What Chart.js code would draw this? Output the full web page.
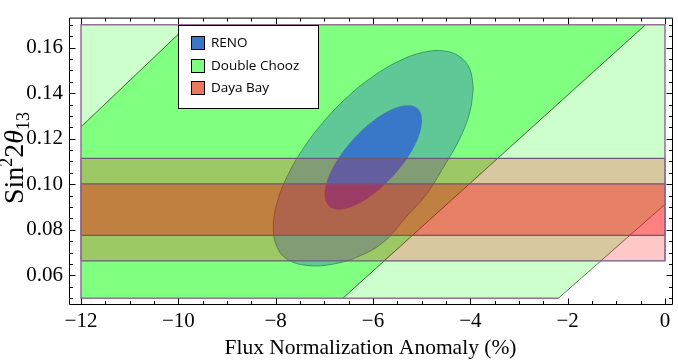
<!DOCTYPE html>
<html><head><meta charset="utf-8">
<script src="https://cdn.jsdelivr.net/npm/chart.js@4"></script>
<style>html,body{margin:0;padding:0;background:#fff;} canvas{display:block;}</style>
</head><body>
<canvas id="c" width="678" height="362"></canvas>
<script>
// ---- axes ----
const xRange = [-12.2466, 0.1438];
const yRange = [0.04748, 0.17269];
const xTicks = [-12, -10, -8, -6, -4, -2, 0];
const xTickLabels = ['−12', '−10', '−8', '−6', '−4', '−2', '0'];
const yTicks = [0.06, 0.08, 0.10, 0.12, 0.14, 0.16];
const yTickLabels = ['0.06', '0.08', '0.10', '0.12', '0.14', '0.16'];
const xMinorStep = 0.5;
const yMinorStep = 0.005;
const xTitle = 'Flux Normalization Anomaly (%)';

// ---- legend ----
const legendLabels = ['RENO', 'Double Chooz', 'Daya Bay'];
const legendColors = ['#3b77c6', '#80ff80', '#e8795e'];

// ---- plotted region box ----
const regionBox = [[-2.19, 0.05], [-12, 0.05], [-12, 0.17], [0, 0.17], [0, 0.0664]];

// ---- Double Chooz (diagonal bands) ----
const dcOuter = [[-12, 0.05], [-2.19, 0.05], [0, 0.0912], [0, 0.17], [-12, 0.17]];
const dcInner = [[-12, 0.05], [-6.62, 0.05], [-0.40, 0.17], [-9.795, 0.17], [-12, 0.1252]];
const dcLine1 = [[-12, 0.1252], [-9.795, 0.17]];
const dcLine2 = [[-6.62, 0.05], [-0.40, 0.17]];
const dcLine3 = [[-2.19, 0.05], [0, 0.0912]];

// ---- Daya Bay (horizontal bands: low, high) ----
const dbOuter = [0.0664, 0.1114];
const dbInner = [0.0776, 0.1002];

// ---- RENO (contour points) ----
const renoOuter = [
  [-3.939, 0.1421], [-4.009, 0.1318], [-4.214, 0.1202], [-4.541, 0.1079], [-4.911, 0.0954],
  [-5.342, 0.0851], [-5.753, 0.0752], [-6.267, 0.0686], [-6.821, 0.0650], [-7.355, 0.0644],
  [-7.773, 0.0673], [-7.978, 0.0728], [-8.048, 0.0811], [-7.978, 0.0914], [-7.773, 0.1030],
  [-7.446, 0.1153], [-7.021, 0.1273], [-6.526, 0.1383], [-5.993, 0.1474], [-5.461, 0.1541],
  [-4.966, 0.1579], [-4.541, 0.1585], [-4.214, 0.1559], [-4.009, 0.1504]];
const renoInner = [
  [-4.999, 0.1280], [-5.033, 0.1233], [-5.132, 0.1178], [-5.290, 0.1119], [-5.496, 0.1060],
  [-5.735, 0.1006], [-5.992, 0.0958], [-6.250, 0.0922], [-6.489, 0.0899], [-6.695, 0.0891],
  [-6.853, 0.0898], [-6.952, 0.0921], [-6.986, 0.0957], [-6.952, 0.1004], [-6.853, 0.1058],
  [-6.695, 0.1117], [-6.489, 0.1176], [-6.250, 0.1231], [-5.992, 0.1278], [-5.735, 0.1314],
  [-5.496, 0.1337], [-5.290, 0.1345], [-5.132, 0.1338], [-5.033, 0.1316]];

const pts = a => a.map(p => ({x: p[0], y: p[1]}));
const closed = a => pts(a.concat([a[0]]));
const band = b => closed([[-12, b[0]], [0, b[0]], [0, b[1]], [-12, b[1]]]);

function shape(data, bg, border, bw, order, tension) {
  return {data, showLine: true, fill: bg ? 'shape' : false, backgroundColor: bg || 'transparent',
    borderColor: border || 'transparent', borderWidth: bw, pointRadius: 0, pointHoverRadius: 0,
    tension: tension || 0, order};
}

const serif = 'Liberation Serif, Times New Roman, serif';

const framePlugin = {
  id: 'frame',
  afterDatasetsDraw(chart) {
    const {ctx, chartArea: ca, scales: {x, y}} = chart;
    ctx.save();
    ctx.strokeStyle = '#000';
    ctx.lineWidth = 1;
    const L = ca.left + 0.5, R = ca.right + 0.5, T = ca.top - 0.5, B = ca.bottom + 0.5;
    ctx.beginPath();
    ctx.rect(L, T, R - L, B - T);
    ctx.stroke();
    ctx.beginPath();
    for (let i = -1; i <= 30; i++) {
      const v = xTicks[0] + i * xMinorStep;
      if (v < xRange[0] || v > xRange[1]) continue;
      const major = xTicks.some(t => Math.abs(t - v) < 1e-9);
      const len = major ? 6 : 3.5;
      const px = Math.round(x.getPixelForValue(v)) + 0.5;
      ctx.moveTo(px, B); ctx.lineTo(px, B - len);
      ctx.moveTo(px, T); ctx.lineTo(px, T + len);
    }
    for (let i = -4; i <= 40; i++) {
      const v = +(yTicks[0] + i * yMinorStep).toFixed(4);
      if (v < yRange[0] || v > yRange[1]) continue;
      const major = yTicks.some(t => Math.abs(t - v) < 1e-9);
      const len = major ? 6 : 3.5;
      const py = Math.round(y.getPixelForValue(v)) + 0.5;
      ctx.moveTo(L, py); ctx.lineTo(L + len, py);
      ctx.moveTo(R, py); ctx.lineTo(R - len, py);
    }
    ctx.stroke();
    ctx.restore();
  },
  afterDraw(chart) {
    const {ctx} = chart;
    ctx.save();
    // y-axis title: Sin^2 2θ_13
    const fs = 28, sub = 18;
    const parts = [
      {t: 'Sin', f: `${fs}px ${serif}`, dy: 0},
      {t: '2', f: `${sub}px ${serif}`, dy: -11},
      {t: '2', f: `${fs}px ${serif}`, dy: 0},
      {t: 'θ', f: `italic ${fs}px ${serif}`, dy: 0},
      {t: '13', f: `${sub}px ${serif}`, dy: 6}
    ];
    let w = 0;
    parts.forEach(p => { ctx.font = p.f; p.w = ctx.measureText(p.t).width; w += p.w; });
    ctx.translate(23, 158);
    ctx.rotate(-Math.PI / 2);
    ctx.fillStyle = '#000';
    ctx.textBaseline = 'alphabetic';
    let cx = -w / 2;
    parts.forEach(p => { ctx.font = p.f; ctx.fillText(p.t, cx, p.dy); cx += p.w; });
    ctx.restore();

    // legend
    ctx.save();
    ctx.fillStyle = '#fff';
    ctx.fillRect(178.5, 25.5, 140, 83);
    ctx.strokeStyle = '#000';
    ctx.lineWidth = 1;
    ctx.strokeRect(178.5, 25.5, 140, 83);
    ctx.font = '13.5px "Open Sans", sans-serif';
    ctx.textBaseline = 'middle';
    legendLabels.forEach((lab, i) => {
      const top = Math.round(36 + i * 22.5);
      ctx.fillStyle = legendColors[i];
      ctx.fillRect(191.5, top + 0.5, 13, 13);
      ctx.strokeStyle = '#000';
      ctx.strokeRect(191.5, top + 0.5, 13, 13);
      ctx.fillStyle = '#000';
      ctx.fillText(lab, 211, top + 7);
    });
    ctx.restore();
  }
};

new Chart(document.getElementById('c'), {
  type: 'scatter',
  data: {
    datasets: [
      shape(pts(regionBox), null, 'rgb(150,110,150)', 1.5, 0),
      shape(band(dbInner), 'rgba(255,0,0,0.362)', 'rgb(110,88,120)', 1.2, 1),
      shape(band(dbOuter), 'rgba(255,0,0,0.216)', 'rgb(110,88,120)', 1.2, 2),
      shape(closed(renoInner), 'rgba(16,40,250,0.5)', 'rgba(70,110,170,0.6)', 1, 3, 0.4),
      shape(closed(renoOuter), 'rgba(21,72,201,0.3)', 'rgba(40,140,80,0.8)', 1, 4, 0.4),
      shape(pts(dcLine1), null, 'rgba(50,90,50,0.9)', 1, 5),
      shape(pts(dcLine2), null, 'rgba(50,90,50,0.9)', 1, 5),
      shape(pts(dcLine3), null, 'rgba(90,95,90,0.9)', 1, 5),
      shape(closed(dcInner), 'rgba(0,255,0,0.375)', null, 0, 6),
      shape(closed(dcOuter), 'rgba(0,255,0,0.2)', null, 0, 7)
    ]
  },
  options: {
    responsive: false,
    animation: false,
    layout: {padding: {top: 1, right: 6, left: 0, bottom: 0}},
    plugins: {legend: {display: false}, tooltip: {enabled: false}},
    scales: {
      x: {
        type: 'linear', min: xRange[0], max: xRange[1],
        afterBuildTicks: s => { s.ticks = xTicks.map(v => ({value: v})); },
        afterFit: s => { s.height = 58; },
        ticks: {callback: (v, i) => xTickLabels[i], font: {family: serif, size: 21}, color: '#000',
          padding: 5, autoSkip: false, maxRotation: 0},
        grid: {display: false, drawTicks: false},
        border: {display: false},
        title: {display: true, text: xTitle, font: {family: serif, size: 21.5}, color: '#000',
          padding: {top: 0, bottom: 1}}
      },
      y: {
        type: 'linear', min: yRange[0], max: yRange[1],
        afterBuildTicks: s => { s.ticks = yTicks.map(v => ({value: v})); },
        afterFit: s => { s.width = 69; },
        ticks: {callback: (v, i) => yTickLabels[i], font: {family: serif, size: 21}, color: '#000',
          padding: 6, autoSkip: false},
        grid: {display: false, drawTicks: false},
        border: {display: false}
      }
    }
  },
  plugins: [framePlugin]
});
</script>
</body></html>
